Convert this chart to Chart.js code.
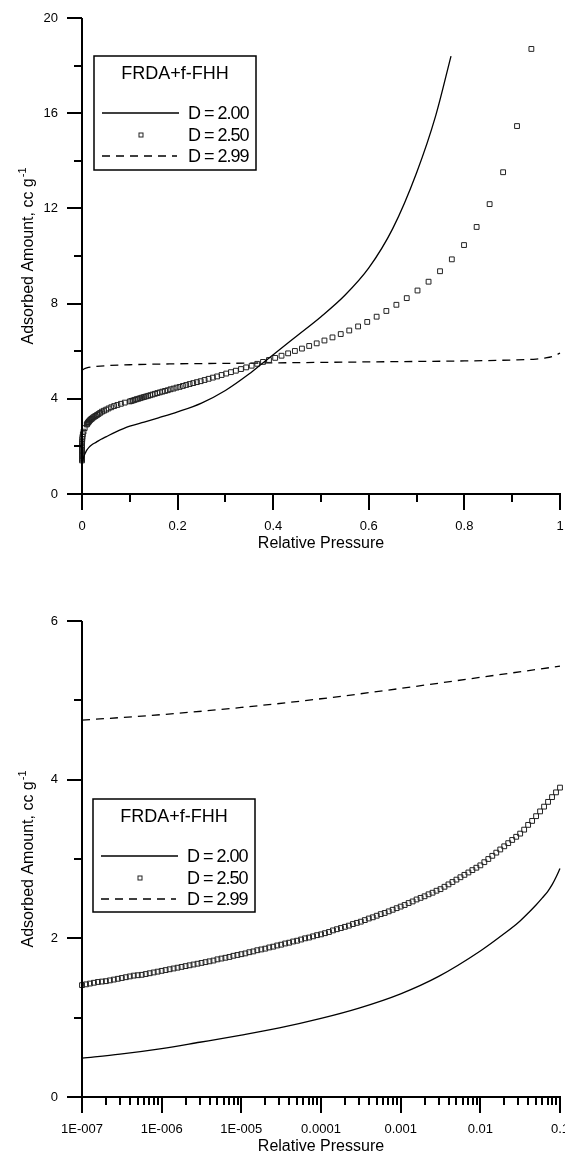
<!DOCTYPE html>
<html><head><meta charset="utf-8">
<script src="https://cdn.jsdelivr.net/npm/chart.js@4.4.1/dist/chart.umd.min.js"></script>
<style>
html,body{margin:0;padding:0;background:#fff;}
#wrap{position:relative;width:565px;height:1157px;overflow:hidden;background:#fff;}
canvas{position:absolute;left:0;}
#c1{top:0}
#c2{top:565px}
</style></head><body>
<div id="wrap"><canvas id="c1" width="565" height="565"></canvas><canvas id="c2" width="565" height="592"></canvas></div>
<script>
// ---------- texts ----------
const seriesLabels = ['D = 2.00', 'D = 2.50', 'D = 2.99'];
const legendTitle = 'FRDA+f-FHH';
const xAxisTitle = 'Relative Pressure';
const yAxisTitle = 'Adsorbed Amount, cc g';
const yAxisTitleSup = '-1';

// ---------- tick labels ----------
const topXTickLabels = ['0', '0.2', '0.4', '0.6', '0.8', '1'];
const topYTickLabels = ['0', '4', '8', '12', '16', '20'];
const bottomXTickLabels = ['1E-007', '1E-006', '1E-005', '0.0001', '0.001', '0.01', '0.1'];
const bottomYTickLabels = ['0', '2', '4', '6'];

// ---------- top chart (linear pressure) ----------
const topD200P = [0.001, 0.002, 0.004, 0.007, 0.01, 0.015, 0.02, 0.03, 0.04, 0.05, 0.07, 0.1, 0.13, 0.16, 0.2, 0.25, 0.3, 0.35, 0.375, 0.4, 0.45, 0.5, 0.55, 0.6, 0.65, 0.7, 0.74, 0.772];
const topD200Y = [1.30, 1.42, 1.58, 1.72, 1.84, 1.97, 2.06, 2.18, 2.30, 2.40, 2.60, 2.85, 3.02, 3.20, 3.45, 3.82, 4.35, 5.05, 5.45, 5.85, 6.65, 7.45, 8.35, 9.50, 11.15, 13.5, 15.9, 18.4];

const topD250P = [
  1e-7, 1.78e-7, 3.16e-7, 5.62e-7, 1e-6, 1.78e-6, 3.16e-6, 5.62e-6, 1e-5, 1.78e-5, 3.16e-5, 5.62e-5,
  1e-4, 1.78e-4, 3.16e-4, 5.62e-4, 0.001, 0.00178, 0.00316, 0.00562, 0.01,
  0.011, 0.0121, 0.0133, 0.0146, 0.0161, 0.0177, 0.0195, 0.0214, 0.0236, 0.026, 0.0285, 0.0314,
  0.0345, 0.038, 0.0418, 0.046, 0.0506, 0.0556, 0.0612, 0.0673, 0.074, 0.0814, 0.0895,
  0.1, 0.1033, 0.1067, 0.1102, 0.1139, 0.1176, 0.1215, 0.1255, 0.1297, 0.1339,
  0.1384, 0.1429, 0.1476, 0.1525, 0.1576, 0.1628, 0.1681, 0.1737, 0.1794, 0.1853,
  0.1915, 0.1978, 0.2043, 0.2111, 0.218, 0.2252, 0.2327, 0.2403, 0.2483, 0.2565,
  0.2649, 0.2737, 0.2827, 0.292, 0.3017, 0.3116, 0.3219, 0.3326, 0.3435, 0.3549,
  0.3666, 0.3787, 0.3912, 0.4041, 0.4174, 0.4312, 0.4454, 0.4601, 0.4753, 0.491,
  0.5072, 0.524, 0.5413, 0.5591, 0.5776, 0.5967, 0.6164, 0.6367, 0.6577, 0.6794,
  0.7019, 0.725, 0.749, 0.7737, 0.7992, 0.8256, 0.8528, 0.881, 0.9101, 0.9401];
const topD250Y = [
  1.41, 1.455, 1.50, 1.54, 1.59, 1.64, 1.69, 1.745, 1.80, 1.86, 1.92, 1.985,
  2.05, 2.13, 2.21, 2.305, 2.40, 2.51, 2.62, 2.77, 2.92,
  2.95, 2.99, 3.02, 3.05, 3.085, 3.12, 3.15, 3.18, 3.22, 3.25, 3.28, 3.32,
  3.36, 3.41, 3.46, 3.50, 3.545, 3.595, 3.645, 3.695, 3.74, 3.79, 3.84,
  3.89, 3.91, 3.93, 3.955, 3.98, 4.00, 4.025, 4.05, 4.075, 4.10,
  4.125, 4.15, 4.18, 4.21, 4.24, 4.27, 4.30, 4.33, 4.36, 4.40,
  4.43, 4.47, 4.50, 4.54, 4.58, 4.62, 4.66, 4.70, 4.74, 4.79,
  4.84, 4.89, 4.94, 5.00, 5.06, 5.12, 5.18, 5.25, 5.32, 5.39,
  5.47, 5.55, 5.63, 5.72, 5.81, 5.91, 6.01, 6.11, 6.22, 6.33,
  6.45, 6.58, 6.72, 6.87, 7.04, 7.23, 7.45, 7.69, 7.95, 8.23,
  8.55, 8.92, 9.36, 9.86, 10.46, 11.22, 12.18, 13.52, 15.46, 18.70];

const topD299P = [0.002, 0.004, 0.01, 0.03, 0.1, 0.2, 0.3, 0.4, 0.5, 0.6, 0.7, 0.8, 0.9, 0.95, 0.97, 0.99, 1.0];
const topD299Y = [5.22, 5.25, 5.30, 5.36, 5.43, 5.47, 5.49, 5.51, 5.53, 5.55, 5.57, 5.59, 5.63, 5.67, 5.72, 5.82, 5.92];

// ---------- bottom chart (log pressure) ----------
const botD200P = [1e-7, 3e-7, 1e-6, 3e-6, 1e-5, 3e-5, 1e-4, 3e-4, 1e-3, 3e-3, 0.01, 0.02, 0.03, 0.04, 0.05, 0.06, 0.07, 0.08, 0.09, 0.1];
const botD200Y = [0.49, 0.54, 0.61, 0.69, 0.78, 0.87, 0.99, 1.12, 1.30, 1.52, 1.84, 2.06, 2.20, 2.32, 2.42, 2.51, 2.59, 2.68, 2.78, 2.88];

const botD250LogP = [
  -7.00, -6.95, -6.90, -6.85, -6.80, -6.75, -6.70, -6.65, -6.60, -6.55,
  -6.50, -6.45, -6.40, -6.35, -6.30, -6.25, -6.20, -6.15, -6.10, -6.05,
  -6.00, -5.95, -5.90, -5.85, -5.80, -5.75, -5.70, -5.65, -5.60, -5.55,
  -5.50, -5.45, -5.40, -5.35, -5.30, -5.25, -5.20, -5.15, -5.10, -5.05,
  -5.00, -4.95, -4.90, -4.85, -4.80, -4.75, -4.70, -4.65, -4.60, -4.55,
  -4.50, -4.45, -4.40, -4.35, -4.30, -4.25, -4.20, -4.15, -4.10, -4.05,
  -4.00, -3.95, -3.90, -3.85, -3.80, -3.75, -3.70, -3.65, -3.60, -3.55,
  -3.50, -3.45, -3.40, -3.35, -3.30, -3.25, -3.20, -3.15, -3.10, -3.05,
  -3.00, -2.95, -2.90, -2.85, -2.80, -2.75, -2.70, -2.65, -2.60, -2.55,
  -2.50, -2.45, -2.40, -2.35, -2.30, -2.25, -2.20, -2.15, -2.10, -2.05,
  -2.00, -1.95, -1.90, -1.85, -1.80, -1.75, -1.70, -1.65, -1.60, -1.55,
  -1.50, -1.45, -1.40, -1.35, -1.30, -1.25, -1.20, -1.15, -1.10, -1.05, -1.00];
const botD250Y = [
  1.41, 1.42, 1.43, 1.44, 1.45, 1.455, 1.46, 1.47, 1.48, 1.49,
  1.50, 1.51, 1.52, 1.53, 1.535, 1.54, 1.55, 1.56, 1.57, 1.58,
  1.59, 1.60, 1.61, 1.62, 1.63, 1.64, 1.65, 1.66, 1.67, 1.68,
  1.69, 1.70, 1.71, 1.72, 1.735, 1.745, 1.755, 1.765, 1.78, 1.79,
  1.80, 1.81, 1.825, 1.835, 1.85, 1.86, 1.87, 1.885, 1.895, 1.91,
  1.92, 1.935, 1.945, 1.96, 1.97, 1.985, 2.00, 2.01, 2.025, 2.04,
  2.05, 2.065, 2.08, 2.10, 2.115, 2.13, 2.145, 2.16, 2.18, 2.195,
  2.21, 2.23, 2.25, 2.265, 2.285, 2.305, 2.32, 2.34, 2.36, 2.38,
  2.40, 2.42, 2.445, 2.465, 2.49, 2.51, 2.53, 2.555, 2.575, 2.60,
  2.62, 2.65, 2.68, 2.71, 2.74, 2.77, 2.80, 2.83, 2.86, 2.89,
  2.92, 2.96, 3.00, 3.04, 3.08, 3.12, 3.16, 3.20, 3.24, 3.28,
  3.32, 3.37, 3.43, 3.48, 3.54, 3.60, 3.66, 3.72, 3.78, 3.84, 3.90];

const botD299P = [1e-7, 1e-6, 1e-5, 1e-4, 1e-3, 1e-2, 1e-1];
const botD299Y = [4.75, 4.82, 4.91, 5.02, 5.15, 5.29, 5.43];

// ---------- rendering ----------
const FONT = '"Liberation Sans", Arial, Helvetica, sans-serif';
const pts = (P, Y) => P.map((p, i) => ({ x: p, y: Y[i] }));

function lineSet(label, data, dash) {
  return { label, data, showLine: true, borderColor: '#000', borderWidth: 1.3, borderDash: dash,
           pointRadius: 0, cubicInterpolationMode: 'monotone', fill: false, clip: false };
}
function squareSet(label, data) {
  return { label, data, showLine: false, pointStyle: 'rect', pointRadius: 3.4,
           pointBorderWidth: 1, pointBorderColor: '#222', pointBackgroundColor: 'rgba(0,0,0,0)',
           borderColor: '#222', backgroundColor: 'rgba(0,0,0,0)', clip: false };
}

const decoPlugin = {
  id: 'deco',
  afterDraw(chart, args, o) {
    const ctx = chart.ctx, a = chart.chartArea, xs = chart.scales.x, ys = chart.scales.y;
    ctx.save();
    ctx.strokeStyle = '#000'; ctx.fillStyle = '#000';
    ctx.lineWidth = 2; ctx.lineCap = 'butt';
    ctx.beginPath();
    ctx.moveTo(a.left, a.top); ctx.lineTo(a.left, a.bottom + 1);
    ctx.moveTo(a.left - 1, a.bottom); ctx.lineTo(a.right + 1, a.bottom);
    xs.ticks.forEach((t, i) => {
      const px = Math.round(xs.getPixelForValue(t.value));
      const len = (i % o.xMajorEvery === 0) ? 16 : 8;
      ctx.moveTo(px, a.bottom); ctx.lineTo(px, a.bottom + len);
    });
    ys.ticks.forEach((t, i) => {
      const py = Math.round(ys.getPixelForValue(t.value));
      const len = (i % o.yMajorEvery === 0) ? 15 : 8;
      ctx.moveTo(a.left, py); ctx.lineTo(a.left - len, py);
    });
    ctx.stroke();

    // axis titles
    ctx.font = '16px ' + FONT; ctx.textAlign = 'center'; ctx.textBaseline = 'middle';
    ctx.fillText(xAxisTitle, (a.left + a.right) / 2, a.bottom + o.xTitleGap);
    ctx.save();
    ctx.translate(o.yTitleX, (a.top + a.bottom) / 2);
    ctx.rotate(-Math.PI / 2);
    ctx.textBaseline = 'alphabetic'; ctx.textAlign = 'left';
    ctx.font = '16px ' + FONT;
    const w1 = ctx.measureText(yAxisTitle).width;
    ctx.font = '11px ' + FONT;
    const w2 = ctx.measureText(yAxisTitleSup).width;
    const start = -(w1 + w2 + 1) / 2;
    ctx.font = '16px ' + FONT; ctx.fillText(yAxisTitle, start, 0);
    ctx.font = '11px ' + FONT; ctx.fillText(yAxisTitleSup, start + w1 + 1, -7);
    ctx.restore();

    // legend box
    const L = o.legend;
    ctx.lineWidth = 1.5;
    ctx.strokeRect(L.left, L.top, L.right - L.left, L.bottom - L.top);
    ctx.font = '18px ' + FONT; ctx.textAlign = 'center'; ctx.textBaseline = 'middle';
    ctx.fillText(legendTitle, (L.left + L.right) / 2, L.top + 18);
    chart.data.datasets.forEach((ds, i) => {
      const y = Math.round(L.top + 57 + i * 21.5);
      if (ds.showLine) {
        ctx.lineWidth = ds.borderWidth;
        ctx.setLineDash(ds.borderDash || []);
        ctx.beginPath();
        ctx.moveTo(L.left + 8, y); ctx.lineTo(L.left + (ds.borderDash ? 83 : 85), y);
        ctx.stroke();
        ctx.setLineDash([]);
      } else {
        const s = 2;
        ctx.lineWidth = 1; ctx.strokeStyle = ds.pointBorderColor;
        ctx.strokeRect(L.left + 47 - s, y - s, 2 * s, 2 * s);
        ctx.strokeStyle = '#000';
      }
      ctx.font = '18px ' + FONT; ctx.textAlign = 'left';
      ctx.letterSpacing = '-1px';
      ctx.fillText(ds.label, L.left + 94, y + 1);
      ctx.letterSpacing = '0px';
    });
    ctx.restore();
  }
};

function build(id, cfg) {
  return new Chart(document.getElementById(id), {
    type: 'scatter',
    data: { datasets: cfg.datasets },
    options: {
      responsive: false, animation: false, devicePixelRatio: 1,
      layout: { padding: { top: cfg.areaTop, right: 4, left: 0, bottom: 0 } },
      plugins: { legend: { display: false }, tooltip: { enabled: false }, deco: cfg.deco },
      scales: {
        x: {
          type: cfg.xType, min: cfg.xMin, max: cfg.xMax,
          grid: { display: false, drawTicks: false }, border: { display: false },
          afterBuildTicks: s => { s.ticks = cfg.xTicks.map(v => ({ value: v })); },
          ticks: { autoSkip: false, maxRotation: 0, minRotation: 0, padding: cfg.xPad, color: '#000',
                   font: { family: FONT, size: 13 }, callback: cfg.xLabel },
          afterFit: s => { s.height = cfg.xAxisH; s.paddingLeft = 0; s.paddingRight = 0; }
        },
        y: {
          type: 'linear', min: cfg.yMin, max: cfg.yMax,
          grid: { display: false, drawTicks: false }, border: { display: false },
          afterBuildTicks: s => { s.ticks = cfg.yTicks.map(v => ({ value: v })); },
          ticks: { autoSkip: false, padding: 24, color: '#000',
                   font: { family: FONT, size: 13 }, callback: cfg.yLabel },
          afterFit: s => { s.width = 82; s.paddingTop = 0; s.paddingBottom = 0; }
        }
      }
    },
    plugins: [decoPlugin]
  });
}

// tick positions
const topXTicks = []; for (let i = 0; i <= 10; i++) topXTicks.push(i / 10);
const topYTicks = []; for (let i = 0; i <= 10; i++) topYTicks.push(i * 2);
const botYTicks = [0, 1, 2, 3, 4, 5, 6];
const botXTicks = [];
for (let e = -7; e <= -2; e++) for (let m = 1; m <= 9; m++) botXTicks.push(m * Math.pow(10, e));
botXTicks.push(0.1);

build('c1', {
  datasets: [
    lineSet(seriesLabels[0], pts(topD200P, topD200Y), undefined),
    squareSet(seriesLabels[1], pts(topD250P, topD250Y)),
    lineSet(seriesLabels[2], pts(topD299P, topD299Y), [8, 6])
  ],
  areaTop: 18, xAxisH: 71, xPad: 25,
  xType: 'linear', xMin: 0, xMax: 1, xTicks: topXTicks,
  xLabel: (v, i) => (i % 2 === 0 ? topXTickLabels[i / 2] : ''),
  yMin: 0, yMax: 20, yTicks: topYTicks,
  yLabel: (v, i) => (i % 2 === 0 ? topYTickLabels[i / 2] : ''),
  deco: { xMajorEvery: 2, yMajorEvery: 2, xTitleGap: 50, yTitleX: 33,
          legend: { left: 94, top: 56, right: 256, bottom: 170 } }
});

build('c2', {
  datasets: [
    lineSet(seriesLabels[0], pts(botD200P, botD200Y), undefined),
    squareSet(seriesLabels[1], botD250LogP.map((e, i) => ({ x: Math.pow(10, e), y: botD250Y[i] }))),
    lineSet(seriesLabels[2], pts(botD299P, botD299Y), [8, 6])
  ],
  areaTop: 56, xAxisH: 60, xPad: 25,
  xType: 'logarithmic', xMin: 1e-7, xMax: 0.1, xTicks: botXTicks,
  xLabel: (v, i) => (i % 9 === 0 ? bottomXTickLabels[i / 9] : ''),
  yMin: 0, yMax: 6, yTicks: botYTicks,
  yLabel: (v, i) => (i % 2 === 0 ? bottomYTickLabels[i / 2] : ''),
  deco: { xMajorEvery: 9, yMajorEvery: 2, xTitleGap: 50, yTitleX: 33,
          legend: { left: 93, top: 234, right: 255, bottom: 347 } }
});
</script></body></html>
